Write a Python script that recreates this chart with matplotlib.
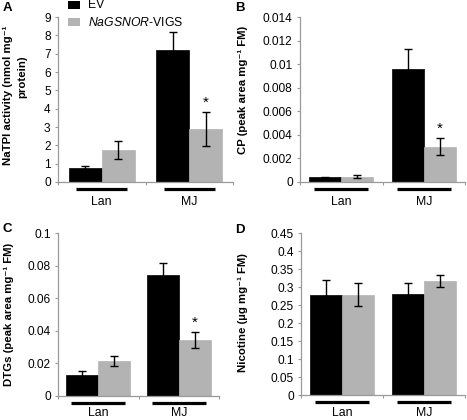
import matplotlib
matplotlib.use("Agg")
import matplotlib.pyplot as plt
from matplotlib.patches import Rectangle
from matplotlib.transforms import blended_transform_factory, ScaledTranslation
from matplotlib.ticker import FuncFormatter, MultipleLocator

plt.rcParams['font.family'] = ['Liberation Sans', 'DejaVu Sans']
plt.rcParams['mathtext.fontset'] = 'custom'
plt.rcParams['mathtext.rm'] = 'Liberation Sans'
plt.rcParams['mathtext.it'] = 'Liberation Sans:italic'
plt.rcParams['mathtext.bf'] = 'Liberation Sans:bold'

# ---------------- data ----------------
categories = ["Lan", "MJ"]
series_names = ["EV", "NaGSNOR-VIGS"]

tpi_ev = [0.74, 7.22]
tpi_ev_err = [0.13, 0.95]
tpi_vigs = [1.73, 2.90]
tpi_vigs_err = [0.48, 0.92]

cp_ev = [0.0004, 0.0096]
cp_ev_err = [0.00005, 0.0017]
cp_vigs = [0.00045, 0.00300]
cp_vigs_err = [0.00012, 0.00075]

dtg_ev = [0.0129, 0.0742]
dtg_ev_err = [0.0024, 0.0076]
dtg_vigs = [0.0214, 0.0344]
dtg_vigs_err = [0.0029, 0.0050]

nic_ev = [0.279, 0.281]
nic_ev_err = [0.040, 0.029]
nic_vigs = [0.279, 0.316]
nic_vigs_err = [0.032, 0.016]

W, H = 467, 420
fig = plt.figure(figsize=(W / 100, H / 100), dpi=100)

BLACK = "#000000"
GREY = "#b3b3b3"
AXC = "#9a9a9a"


def rect(l, t, r, b):
    return [l / W, 1 - b / H, (r - l) / W, (b - t) / H]


def fmt(v, pos):
    s = "%g" % round(v, 6)
    return s


def panel(box, ev, ev_err, vg, vg_err, ymax, step, bw, uh, star, lab_off):
    ax = fig.add_axes(rect(*box))
    x = [0, 1]
    xe = [i - bw / 2 for i in x]
    xv = [i + bw / 2 for i in x]
    ax.bar(xe, ev, width=bw, color=BLACK, edgecolor=BLACK, linewidth=0.5, zorder=2)
    ax.bar(xv, vg, width=bw, color=GREY, edgecolor=GREY, linewidth=0.5, zorder=2)
    ax.errorbar(xe, ev, yerr=ev_err, fmt='none', ecolor=BLACK, elinewidth=1.0,
                capsize=2.6, capthick=1.0, zorder=3)
    ax.errorbar(xv, vg, yerr=vg_err, fmt='none', ecolor=BLACK, elinewidth=1.0,
                capsize=2.6, capthick=1.0, zorder=3)
    ax.set_xlim(-0.5, 1.5)
    ax.set_ylim(0, ymax)
    ax.yaxis.set_major_locator(MultipleLocator(step))
    ax.yaxis.set_major_formatter(FuncFormatter(fmt))
    for s in ['top', 'right']:
        ax.spines[s].set_visible(False)
    for s in ['left', 'bottom']:
        ax.spines[s].set_color(AXC)
        ax.spines[s].set_linewidth(0.9)
    ax.tick_params(axis='y', direction='out', length=2.3, width=0.8, color=AXC,
                   labelsize=8.6, pad=3, labelcolor='black')
    ax.set_xticks([])
    ax.set_xticks([-0.5, 0.5, 1.5], minor=True)
    ax.tick_params(axis='x', which='minor', direction='out', length=2.3, width=0.8,
                   color=AXC, labelbottom=False)
    ax.patch.set_alpha(0)
    base = blended_transform_factory(ax.transData, ax.transAxes)
    tline = base + ScaledTranslation(0, -0.07, fig.dpi_scale_trans)
    ttext = base + ScaledTranslation(0, -lab_off / 100, fig.dpi_scale_trans)
    for i, c in enumerate(categories):
        ax.plot([i - uh, i + uh], [0, 0], color='black', lw=2.3, transform=tline,
                clip_on=False, solid_capstyle='butt')
        ax.text(i, 0, c, transform=ttext, ha='center', va='center', fontsize=8.8)
    if star:
        ax.annotate("*", xy=(xv[1], vg[1] + vg_err[1]), xytext=(0, 1.5),
                    textcoords='offset points', ha='center', va='bottom', fontsize=11)
    return ax


panel((58, 17, 233, 182), tpi_ev, tpi_ev_err, tpi_vigs, tpi_vigs_err, 9, 1, 0.377, 0.29, True, 20)
panel((300, 17, 465, 182), cp_ev, cp_ev_err, cp_vigs, cp_vigs_err, 0.014, 0.002, 0.39, 0.33, True, 20)
panel((58, 233, 219, 396), dtg_ev, dtg_ev_err, dtg_vigs, dtg_vigs_err, 0.1, 0.02, 0.40, 0.335, True, 17)
panel((301, 233, 465, 395), nic_ev, nic_ev_err, nic_vigs, nic_vigs_err, 0.45, 0.05, 0.39, 0.33, False, 18)

# y labels
def ylab(x, y, s):
    fig.text(x / W, 1 - y / H, s, rotation=90, ha='center', va='center',
             fontsize=8.2, fontweight='bold')

ylab(8, 95, "NaTPI activity (nmol mg⁻¹")
ylab(22, 77, "protein)")
ylab(243, 90, "CP (peak area mg⁻¹ FM)")
ylab(9, 314, "DTGs (peak area mg⁻¹ FM)")
ylab(243, 313, "Nicotine (µg mg⁻¹ FM)")

# panel letters
for lx, ly, L in [(7, 8, "A"), (240, 8, "B"), (7, 229, "C"), (240, 230, "D")]:
    fig.text(lx / W, 1 - ly / H, L, ha='center', va='center', fontsize=9.5, fontweight='bold')

# legend
fig.patches.append(Rectangle((68 / W, 1 - 9 / H), 12 / W, 7.5 / H, transform=fig.transFigure,
                             facecolor=BLACK, edgecolor='none'))
fig.patches.append(Rectangle((68 / W, 1 - 26 / H), 12 / W, 7.5 / H, transform=fig.transFigure,
                             facecolor=GREY, edgecolor='none'))
fig.text(88 / W, 1 - 5.5 / H, series_names[0], ha='left', va='center', fontsize=8.8)
fig.text(88 / W, 1 - 22 / H, r"$\mathit{NaGSNOR}$-VIGS", ha='left', va='center', fontsize=8.8)

fig.savefig("out.png", dpi=100)
